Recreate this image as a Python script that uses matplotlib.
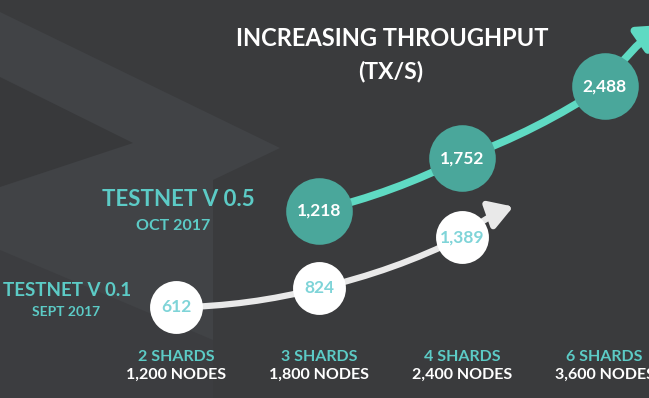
import matplotlib
matplotlib.use("Agg")
import matplotlib.pyplot as plt
from matplotlib.patches import Polygon

# Throughput values (tx/s)
v01_pos = [0, 1, 2]
v01_tps = [612, 824, 1389]
v05_pos = [1, 2, 3]
v05_tps = [1218, 1752, 2488]

shards = ["2 SHARDS", "3 SHARDS", "4 SHARDS", "6 SHARDS"]
nodes = ["1,200 NODES", "1,800 NODES", "2,400 NODES", "3,600 NODES"]

W, H = 649, 398
bg = "#3a3b3d"
teal_txt = "#5ccbc6"
teal_line = "#5fdac3"
teal_fill = "#4aa79b"
white_line = "#e9e9e9"
num_light = "#7fd4d8"

plt.rcParams["font.family"] = ["Lato", "DejaVu Sans"]

fig = plt.figure(figsize=(W / 100, H / 100), dpi=100, facecolor=bg)


def px(x, y):
    # pixel position -> figure fraction
    return x / W, 1 - y / H


# background chevron decoration (pixel space)
bgax = fig.add_axes([0, 0, 1, 1], zorder=0)
bgax.set_xlim(0, W)
bgax.set_ylim(H, 0)
bgax.axis("off")
bgax.add_patch(Polygon([(0, 12), (280, 148), (213, 180), (213, 398), (0, 398)],
                       closed=True, color="#414346", lw=0))
bgax.add_patch(Polygon([(0, 77), (133, 143), (0, 187)], closed=True, color="#38393b", lw=0))
bgax.add_patch(Polygon([(0, 250), (213, 340), (213, 398), (0, 398)], closed=True,
                       color="#3c3d40", lw=0))

# one axes per release, each with its own vertical scale
ax1 = fig.add_axes([0, 0, 1, 1], zorder=1)
ax2 = fig.add_axes([0, 0, 1, 1], zorder=2)
for ax in (ax1, ax2):
    ax.set_xlim(-1.235, 3.31)
    ax.patch.set_alpha(0)
    ax.axis("off")
ax1.set_ylim(-394, 4018)
ax2.set_ylim(-691, 3365)


def draw_series(ax, xs, ys, line_c, lw, tip, rad):
    for i in range(len(xs) - 1):
        ax.annotate("", xy=(xs[i + 1], ys[i + 1]), xytext=(xs[i], ys[i]),
                    arrowprops=dict(arrowstyle="-", color=line_c, lw=lw,
                                    shrinkA=0, shrinkB=0,
                                    connectionstyle="arc3,rad=%s" % rad))
    # arrow head sits at the offset end (xytext)
    ax.annotate("", xy=(xs[-1], ys[-1]), xytext=tip, textcoords="offset points",
                arrowprops=dict(arrowstyle="<|-,head_length=1.4,head_width=0.85",
                                color=line_c, lw=lw, shrinkA=0, shrinkB=0,
                                mutation_scale=10,
                                connectionstyle="arc3,rad=0.1"))


draw_series(ax1, v01_pos, v01_tps, white_line, 4.5, (37, 22), 0.06)
ax1.scatter(v01_pos, v01_tps, s=1450, color="white", zorder=5, lw=0)
for x, v in zip(v01_pos, v01_tps):
    ax1.text(x, v, f"{v:,}", color=num_light, fontsize=12.5, fontweight="bold",
             ha="center", va="center", zorder=6)

draw_series(ax2, v05_pos, v05_tps, teal_line, 5.5, (42, 44), 0.06)
ax2.scatter(v05_pos, v05_tps, s=2300, color=teal_fill, zorder=5, lw=0)
for x, v in zip(v05_pos, v05_tps):
    ax2.text(x, v, f"{v:,}", color="white", fontsize=12.5, fontweight="bold",
             ha="center", va="center", zorder=6)

# titles and release labels
fig.text(*px(392, 39), "INCREASING THROUGHPUT", color="white", fontsize=17,
         fontweight="bold", ha="center", va="center")
fig.text(*px(391, 72), "(TX/S)", color="white", fontsize=16.5, fontweight="bold",
         ha="center", va="center")
fig.text(*px(255, 199), "TESTNET V 0.5", color=teal_txt, fontsize=16,
         fontweight="bold", ha="right", va="center")
fig.text(*px(173, 226), "OCT 2017", color=teal_txt, fontsize=11.5,
         fontweight="bold", ha="center", va="center")
fig.text(*px(131, 290), "TESTNET V 0.1", color=teal_txt, fontsize=13.5,
         fontweight="bold", ha="right", va="center")
fig.text(*px(66, 312), "SEPT 2017", color=teal_txt, fontsize=10,
         fontweight="bold", ha="center", va="center")

# shard / node labels under each column
for i, (s, n) in enumerate(zip(shards, nodes)):
    ax2.annotate(s, xy=(i, 0), xycoords=("data", "figure fraction"),
                 xytext=(0, (H - 357) * 0.72), textcoords="offset points",
                 color=teal_txt, fontsize=11.5, fontweight="bold",
                 ha="center", va="center")
    ax2.annotate(n, xy=(i, 0), xycoords=("data", "figure fraction"),
                 xytext=(0, (H - 375) * 0.72), textcoords="offset points",
                 color="white", fontsize=11.5, fontweight="bold",
                 ha="center", va="center")

fig.savefig("out.png", dpi=100, facecolor=bg)
